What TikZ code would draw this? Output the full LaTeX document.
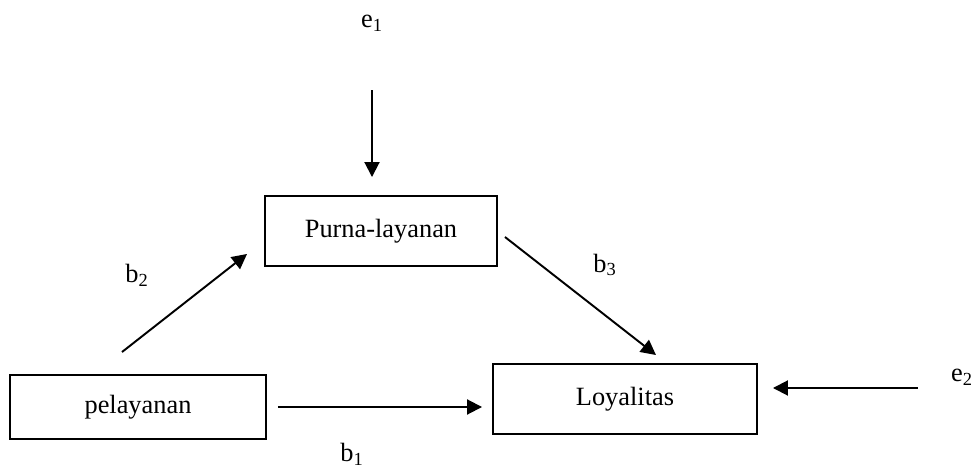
\documentclass[tikz,border=0pt]{standalone}
\usepackage{fontspec}
\setmainfont{Liberation Serif}
\usetikzlibrary{arrows.meta}
\tikzset{kotak/.style={draw,line width=1.1pt,inner sep=0pt},
	arr/.style={line width=1.1pt,->}}
\begin{document}
\begin{tikzpicture}[line join=miter, >={Triangle[length=3mm,width=3mm]},font=\fontsize{15}{18}\selectfont]
	\useasboundingbox (0,0) rectangle (19.48,9.38);
	\node[kotak,minimum width=4.64cm,minimum height=1.4cm] (purna) at (7.62,4.76) {Purna-layanan};
	\node[kotak,minimum width=5.12cm,minimum height=1.28cm] (pel) at (2.76,1.24) {pelayanan};
	\node[kotak,minimum width=5.28cm,minimum height=1.4cm] (loyal) at (12.5,1.4) {Loyalitas};
	\node[inner sep=0pt] (e1) at (7.44,8.92) {e\textsubscript{1}};
	\node[inner sep=0pt] (e2) at (19.24,1.84) {e\textsubscript{2}};
	\node[inner sep=0pt] (b1) at (7.04,0.3) {b\textsubscript{1}};
	\node[inner sep=0pt] (b2) at (2.74,3.88) {b\textsubscript{2}};
	\node[inner sep=0pt] (b3) at (12.1,4.08) {b\textsubscript{3}};
	\draw[arr,shorten <=1.18cm,shorten >=0.36cm] (e1) -- (e1 |- purna.north);
	\draw[arr] ([shift={(-0.32,0.44)}]pel.north) -- ([shift={(-0.34,0.26)}]purna.south west);
	\draw[arr] ([shift={(0.14,-0.12)}]purna.east) -- ([shift={(0.62,0.16)}]loyal.north);
	\draw[arr,shorten <=0.22cm,shorten >=0.2cm] (pel.east) -- (pel.east -| loyal.west);
	\draw[arr] ([shift={(-0.66,-0.22)}]e2.west) -- ([shift={(0.3,0.22)}]loyal.east);
\end{tikzpicture}
\end{document}
